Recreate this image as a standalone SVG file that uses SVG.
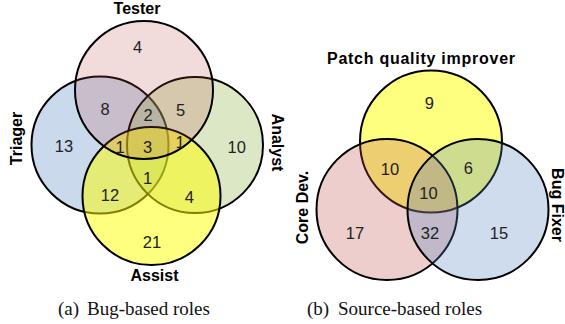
<svg xmlns="http://www.w3.org/2000/svg" width="565" height="324" viewBox="0 0 565 324">
<style>
.c{stroke:#000;stroke-width:2}
.lbl{font-family:"Liberation Sans",Arial,sans-serif;font-weight:bold;font-size:16px;fill:#000}
.num{font-family:"Liberation Sans",Arial,sans-serif;font-size:16.5px;fill:#222;text-anchor:middle}
.cap{font-family:"Liberation Serif","Times New Roman",serif;font-size:19px;fill:#111}
</style>
<rect width="565" height="324" fill="#fff"/>
<g id="bug-based">
  <g id="triager">
    <circle class="c" cx="100" cy="145" r="68.5" fill="#4F81BD" fill-opacity="0.3"/>
    <text class="lbl" text-anchor="middle" transform="translate(22,138.5) rotate(-90)">Triager</text>
  </g>
  <g id="analyst">
    <circle class="c" cx="195" cy="145" r="68" fill="#9BBB59" fill-opacity="0.35"/>
    <text class="lbl" text-anchor="middle" transform="translate(271.5,142.5) rotate(90)">Analyst</text>
  </g>
  <g id="assist">
    <circle class="c" cx="151.5" cy="196" r="69" fill="#FFFF00" fill-opacity="0.5"/>
    <text class="lbl" text-anchor="middle" x="154.5" y="281">Assist</text>
  </g>
  <g id="tester">
    <circle class="c" cx="144" cy="90" r="69" fill="#C0504D" fill-opacity="0.2"/>
    <text class="lbl" text-anchor="middle" x="137" y="14">Tester</text>
  </g>
  <g id="counts-a">
    <text class="num" x="137.7" y="52.5">4</text>
    <text class="num" x="105" y="114.5">8</text>
    <text class="num" x="148" y="121">2</text>
    <text class="num" x="180.5" y="115.5">5</text>
    <text class="num" x="64" y="152">13</text>
    <text class="num" x="120" y="152.5">1</text>
    <text class="num" x="147.7" y="152.5">3</text>
    <text class="num" x="180" y="147.5">1</text>
    <text class="num" x="236.7" y="152.5">10</text>
    <text class="num" x="147.7" y="184">1</text>
    <text class="num" x="110" y="201">12</text>
    <text class="num" x="189.3" y="203">4</text>
    <text class="num" x="152" y="248">21</text>
  </g>
</g>
<g id="source-based">
  <g id="patch-quality-improver">
    <circle class="c" cx="431" cy="141.5" r="71" fill="#FFFF00" fill-opacity="0.5"/>
    <text class="lbl" text-anchor="middle" x="421" y="64" textLength="188" lengthAdjust="spacing">Patch quality improver</text>
  </g>
  <g id="core-dev">
    <circle class="c" cx="387" cy="209.5" r="70.5" fill="#C0504D" fill-opacity="0.28"/>
    <text class="lbl" text-anchor="middle" transform="translate(307.5,207.5) rotate(-90)">Core Dev.</text>
  </g>
  <g id="bug-fixer">
    <circle class="c" cx="478" cy="209.5" r="70.5" fill="#4F81BD" fill-opacity="0.28"/>
    <text class="lbl" text-anchor="middle" transform="translate(552,205) rotate(90)">Bug Fixer</text>
  </g>
  <g id="counts-b">
    <text class="num" x="429.3" y="109">9</text>
    <text class="num" x="390" y="174.5">10</text>
    <text class="num" x="468.3" y="174">6</text>
    <text class="num" x="428.5" y="198.5">10</text>
    <text class="num" x="355" y="238.5">17</text>
    <text class="num" x="430" y="238.5">32</text>
    <text class="num" x="499" y="238.5">15</text>
  </g>
</g>
<g id="captions">
  <text class="cap" y="315"><tspan x="58">(a) </tspan><tspan x="87">Bug-based roles</tspan></text>
  <text class="cap" y="315"><tspan x="307">(b) </tspan><tspan x="338">Source-based roles</tspan></text>
</g>
</svg>
